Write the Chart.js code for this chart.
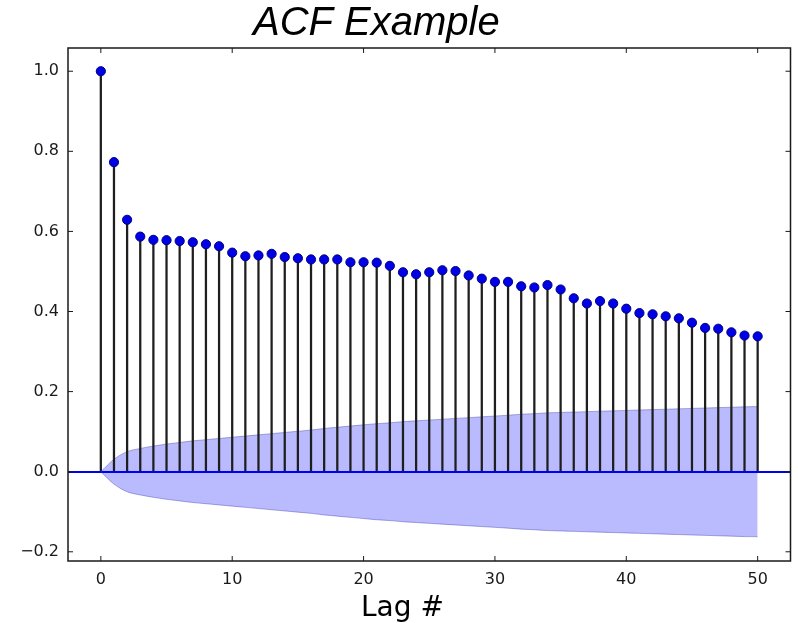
<!DOCTYPE html>
<html>
<head>
<meta charset="utf-8">
<title>ACF Example</title>
<script src="https://cdn.jsdelivr.net/npm/chart.js@4.4.1/dist/chart.umd.min.js"></script>
<style>
    html, body { margin: 0; padding: 0; background: #ffffff; }
    #wrap { width: 798px; height: 623px; }
</style>
</head>
<body>
<div id="wrap"><canvas id="acf-chart" width="798" height="623"></canvas></div>
<script>
// lags and autocorrelation values
const lags = [0, 1, 2, 3, 4, 5, 6, 7, 8, 9, 10, 11, 12, 13, 14, 15, 16, 17, 18, 19, 20,
    21, 22, 23, 24, 25, 26, 27, 28, 29, 30, 31, 32, 33, 34, 35, 36, 37, 38, 39, 40,
    41, 42, 43, 44, 45, 46, 47, 48, 49, 50];
const acf = [1.0, 0.773, 0.629, 0.587, 0.579, 0.578, 0.576, 0.573, 0.568, 0.563, 0.547,
    0.538, 0.540, 0.544, 0.536, 0.533, 0.530, 0.530, 0.530, 0.523, 0.523,
    0.522, 0.514, 0.498, 0.493, 0.498, 0.503, 0.501, 0.490, 0.482, 0.474,
    0.474, 0.463, 0.460, 0.466, 0.455, 0.433, 0.420, 0.426, 0.420, 0.407,
    0.396, 0.393, 0.388, 0.383, 0.372, 0.359, 0.357, 0.348, 0.340, 0.338];
// half width of the shaded confidence band at each lag
const band = [0, 0.031, 0.050, 0.058, 0.064, 0.069, 0.073, 0.077, 0.080, 0.083, 0.086,
    0.089, 0.092, 0.095, 0.098, 0.101, 0.104, 0.108, 0.111, 0.114, 0.117,
    0.120, 0.122, 0.125, 0.127, 0.129, 0.131, 0.133, 0.135, 0.137, 0.139,
    0.141, 0.1435, 0.145, 0.147, 0.148, 0.149, 0.150, 0.151, 0.152, 0.153,
    0.154, 0.155, 0.156, 0.157, 0.158, 0.159, 0.160, 0.161, 0.162, 0.1625];
const xTicks = [0, 10, 20, 30, 40, 50];
const yTicks = [-0.2, 0.0, 0.2, 0.4, 0.6, 0.8, 1.0];

const points = lags.map((l, i) => ({ x: l, y: acf[i] }));
const upper = lags.map((l, i) => ({ x: l, y: band[i] }));
const lower = lags.map((l, i) => ({ x: l, y: -band[i] }));

// frame, inward tick marks and the two big texts
const framePlugin = {
    id: 'frame',
    afterDraw(chart) {
        const ctx = chart.ctx;
        const a = chart.chartArea;
        const sx = chart.scales.x, sy = chart.scales.y;
        const tl = 5;
        ctx.save();
        ctx.strokeStyle = '#1a1a1a';
        ctx.lineWidth = 1;
        ctx.beginPath();
        sx.ticks.forEach(t => {
            const px = sx.getPixelForValue(t.value);
            ctx.moveTo(px, a.bottom); ctx.lineTo(px, a.bottom - tl);
            ctx.moveTo(px, a.top); ctx.lineTo(px, a.top + tl);
        });
        sy.ticks.forEach(t => {
            const py = sy.getPixelForValue(t.value);
            ctx.moveTo(a.left, py); ctx.lineTo(a.left + tl, py);
            ctx.moveTo(a.right, py); ctx.lineTo(a.right - tl, py);
        });
        ctx.stroke();
        ctx.lineWidth = 1.5;
        ctx.strokeRect(a.left, a.top, a.right - a.left, a.bottom - a.top);

        ctx.fillStyle = '#000000';
        ctx.textBaseline = 'alphabetic';
        ctx.textAlign = 'left';
        ctx.font = 'italic 40px "Liberation Sans"';
        ctx.fillText('ACF Example', 253, 35);
        ctx.font = '28px "DejaVu Sans"';
        ctx.fillText('Lag #', 361, 616);
        ctx.restore();
    }
};

const chart = new Chart(document.getElementById('acf-chart').getContext('2d'), {
    type: 'scatter',
    data: {
        datasets: [
            {
                type: 'scatter',
                label: 'ACF',
                data: points,
                pointRadius: 4.6,
                pointBackgroundColor: '#0000e6',
                pointBorderColor: '#000080',
                pointBorderWidth: 1,
                order: 0
            },
            {
                type: 'bar',
                label: 'stems',
                data: points,
                backgroundColor: '#1e1e1e',
                borderWidth: 0,
                barThickness: 1.6,
                order: 1
            },
            {
                type: 'line',
                label: 'upper',
                data: upper,
                fill: '+1',
                backgroundColor: 'rgba(0, 0, 255, 0.27)',
                borderColor: 'rgba(60, 60, 160, 0.4)',
                borderWidth: 1,
                pointRadius: 0,
                cubicInterpolationMode: 'monotone',
                order: 2
            },
            {
                type: 'line',
                label: 'lower',
                data: lower,
                fill: false,
                borderColor: 'rgba(60, 60, 160, 0.4)',
                borderWidth: 1,
                pointRadius: 0,
                cubicInterpolationMode: 'monotone',
                order: 3
            }
        ]
    },
    options: {
        responsive: false,
        animation: false,
        events: [],
        layout: { padding: { top: 48, right: 7.5, left: 0, bottom: 0 } },
        plugins: {
            legend: { display: false },
            tooltip: { enabled: false },
            title: { display: false }
        },
        scales: {
            x: {
                type: 'linear',
                min: -2.5,
                max: 52.5,
                offset: false,
                grid: { display: false },
                border: { display: false },
                ticks: {
                    includeBounds: false,
                    padding: 1,
                    color: '#1a1a1a',
                    font: { family: 'DejaVu Sans', size: 16 },
                    callback: v => String(v)
                },
                afterBuildTicks: s => { s.ticks = xTicks.map(v => ({ value: v })); },
                afterFit: s => { s.height = 62; }
            },
            y: {
                type: 'linear',
                min: -0.223,
                max: 1.058,
                z: 1,
                border: { display: false },
                grid: {
                    drawTicks: false,
                    lineWidth: 2,
                    color: c => (c.tick && Math.abs(c.tick.value) < 1e-9) ? '#0000f0' : 'rgba(0,0,0,0)'
                },
                ticks: {
                    includeBounds: false,
                    padding: 9,
                    color: '#1a1a1a',
                    font: { family: 'DejaVu Sans', size: 16 },
                    callback: v => (Math.abs(v) < 1e-9 ? 0 : v).toFixed(1).replace('-', '\u2212')
                },
                afterBuildTicks: s => { s.ticks = yTicks.map(v => ({ value: v })); },
                afterFit: s => { s.width = 68; }
            }
        }
    },
    plugins: [framePlugin]
});
</script>
</body>
</html>
